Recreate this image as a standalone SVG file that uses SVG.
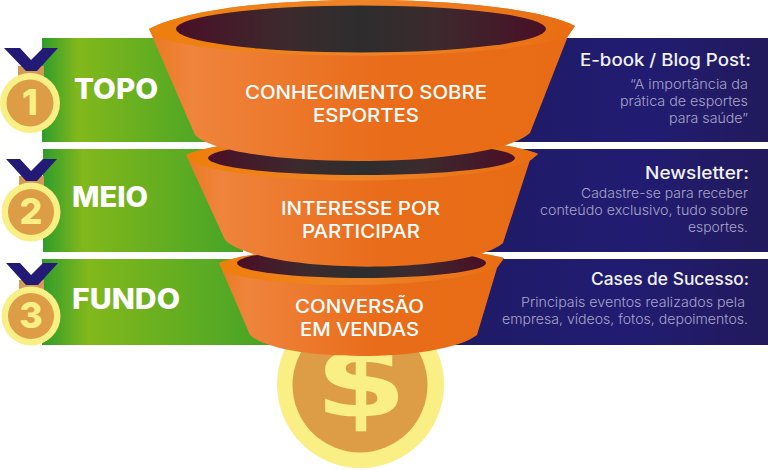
<svg xmlns="http://www.w3.org/2000/svg" width="768" height="470" viewBox="0 0 768 470">
<style>
text{font-family:"Inter","Open Sans","Liberation Sans",sans-serif}
.lv{font-size:28px;font-weight:800;fill:#fff}
.c{font-size:18px;font-weight:500;fill:#fff}
.h{font-size:17px;font-weight:500;fill:#f2f1f8}
.d{font-size:13.500px;font-weight:300;fill:#a8a5c9}
.n{font-size:36px;font-weight:800;fill:#f9ef85;text-anchor:middle}
.ribbon{fill:#231a75}.tab{fill:#d19a55}.mo{fill:#f9ef85}.mi{fill:#dd9c46}
</style>
<defs>
<linearGradient id="g"><stop offset="0" stop-color="#2f9c2c"/><stop offset=".2" stop-color="#82b81b"/><stop offset="1" stop-color="#45a327"/></linearGradient>
<linearGradient id="b"><stop offset="0" stop-color="#1f1b66"/><stop offset=".55" stop-color="#211c72"/><stop offset="1" stop-color="#221a5c"/></linearGradient>
<linearGradient id="o"><stop offset="0" stop-color="#ea7a22"/><stop offset=".1" stop-color="#ef843c"/><stop offset=".55" stop-color="#e96c1a"/><stop offset="1" stop-color="#e86c14"/></linearGradient>
<linearGradient id="r"><stop offset="0" stop-color="#ee7f0c"/><stop offset=".5" stop-color="#ef8428"/><stop offset="1" stop-color="#e96d12"/></linearGradient>
<linearGradient id="k"><stop offset="0" stop-color="#4a0f26"/><stop offset=".3" stop-color="#3c2a2e"/><stop offset=".5" stop-color="#2d2d2d"/><stop offset=".7" stop-color="#3c2a2e"/><stop offset="1" stop-color="#4a0f26"/></linearGradient>
</defs>
<rect width="768" height="470" fill="#fff"/>
<g id="bars">
<rect x="42" y="38" width="180" height="104" fill="url(#g)"/>
<rect x="43" y="149" width="200" height="103" fill="url(#g)"/>
<rect x="42" y="259" width="230" height="86" fill="url(#g)"/>
<rect x="500" y="38" width="268" height="104" fill="url(#b)"/>
<rect x="480" y="149" width="288" height="103" fill="url(#b)"/>
<rect x="450" y="259" width="318" height="86" fill="url(#b)"/>
</g>
<g id="coin">
<circle cx="360.500" cy="384.500" r="83.500" class="mo"/>
<circle cx="360" cy="385" r="67.500" class="mi"/>
<text transform="translate(361 416) scale(1.3 1)" font-size="102" font-weight="800" text-anchor="middle" fill="#f9ef85" style="font-family:'DejaVu Sans',sans-serif">$</text>
</g>
<g id="funnel3">
<path d="M219 263C270 243 450 243 504 258L497 268L477 335C440 363 280 363 250 335Z" fill="url(#o)"/>
<path d="M219 263C270 243 450 243 504 258L497 267C440 290 280 290 224 272Z" fill="url(#r)"/>
<ellipse cx="361.500" cy="263" rx="124.500" ry="15" fill="url(#k)"/>
<text class="c" x="295" y="313" textLength="129" lengthAdjust="spacingAndGlyphs">CONVERSÃO</text>
<text class="c" x="300" y="336" textLength="119" lengthAdjust="spacingAndGlyphs">EM VENDAS</text>
</g>
<g id="funnel2">
<path d="M186 155C240 130 480 130 538 154L530 160L503 243C465 275 262 275 225 240Z" fill="url(#o)"/>
<path d="M186 155C240 130 480 130 538 154L531 160C470 187 250 187 192 162Z" fill="url(#r)"/>
<ellipse cx="361.500" cy="158" rx="153.500" ry="17" fill="url(#k)"/>
<text class="c" x="281" y="215" textLength="159" lengthAdjust="spacingAndGlyphs">INTERESSE POR</text>
<text class="c" x="302" y="238" textLength="118" lengthAdjust="spacingAndGlyphs">PARTICIPAR</text>
</g>
<g id="funnel1">
<path d="M149 29C190 8 280 0 362 0C450 0 540 8 575 26L568 36L530 133C490 170 230 170 195 135Z" fill="url(#o)"/>
<path d="M149 29C190 8 280 0 362 0C450 0 540 8 575 26L568 36C500 62 220 62 154 36Z" fill="url(#r)"/>
<ellipse cx="361" cy="29" rx="185" ry="23.500" fill="url(#k)"/>
<text class="c" x="245" y="99" textLength="242" lengthAdjust="spacingAndGlyphs">CONHECIMENTO SOBRE</text>
<text class="c" x="313" y="122" textLength="106" lengthAdjust="spacingAndGlyphs">ESPORTES</text>
</g>
<g id="level1">
<path class="tab" d="M18 66H44V78H18Z"/>
<path class="ribbon" d="M4 48H20L31 60L43 48H58L37 71H26Z"/>
<circle cx="30" cy="103" r="30" class="mo"/><circle cx="30" cy="103" r="23.500" class="mi"/>
<text class="n" x="30" y="115">1</text>
<text class="lv" x="74" y="99" textLength="84" lengthAdjust="spacingAndGlyphs">TOPO</text>
</g>
<g id="level2">
<path class="tab" d="M19 176H44V188H19Z"/>
<path class="ribbon" d="M6 159H20L31 171L43 159H57L37 181H26Z"/>
<circle cx="31" cy="212" r="29.500" class="mo"/><circle cx="31" cy="212" r="23" class="mi"/>
<text class="n" x="31" y="224">2</text>
<text class="lv" x="72" y="207" textLength="76" lengthAdjust="spacingAndGlyphs">MEIO</text>
</g>
<g id="level3">
<path class="tab" d="M19 280H44V292H19Z"/>
<path class="ribbon" d="M6 263H20L31 275L43 263H58L38 285H26Z"/>
<circle cx="31" cy="316" r="29.500" class="mo"/><circle cx="31" cy="316" r="23" class="mi"/>
<text class="n" x="31" y="328">3</text>
<text class="lv" x="72" y="309" textLength="108" lengthAdjust="spacingAndGlyphs">FUNDO</text>
</g>
<g id="content1">
<text class="h" x="580" y="66" textLength="171" lengthAdjust="spacingAndGlyphs">E-book / Blog Post:</text>
<text class="d" x="630" y="89" textLength="118" lengthAdjust="spacingAndGlyphs">“A importância da</text>
<text class="d" x="620" y="106" textLength="128" lengthAdjust="spacingAndGlyphs">prática de esportes</text>
<text class="d" x="669" y="123" textLength="79" lengthAdjust="spacingAndGlyphs">para saúde”</text>
</g>
<g id="content2">
<text class="h" x="645" y="179" textLength="104" lengthAdjust="spacingAndGlyphs">Newsletter:</text>
<text class="d" x="581" y="198" textLength="167" lengthAdjust="spacingAndGlyphs">Cadastre-se para receber</text>
<text class="d" x="540" y="215" textLength="208" lengthAdjust="spacingAndGlyphs">conteúdo exclusivo, tudo sobre</text>
<text class="d" x="688" y="232" textLength="60" lengthAdjust="spacingAndGlyphs">esportes.</text>
</g>
<g id="content3">
<text class="h" x="591" y="285" textLength="158" lengthAdjust="spacingAndGlyphs">Cases de Sucesso:</text>
<text class="d" x="521" y="307" textLength="224" lengthAdjust="spacingAndGlyphs">Principais eventos realizados pela</text>
<text class="d" x="502" y="324" textLength="246" lengthAdjust="spacingAndGlyphs">empresa, vídeos, fotos, depoimentos.</text>
</g>
</svg>
